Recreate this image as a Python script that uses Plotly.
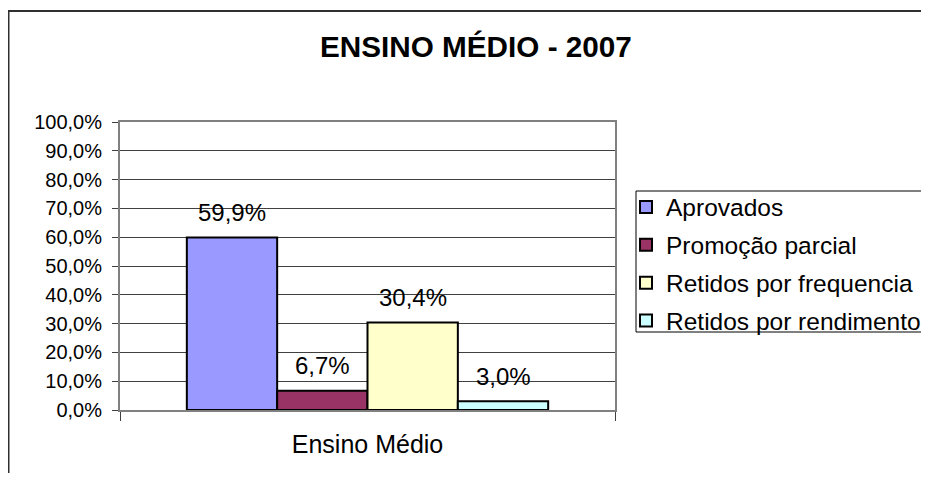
import plotly.graph_objects as go

# ---- data ----
categories = ["Ensino Médio"]
series_names = ["Aprovados", "Promoção parcial", "Retidos por frequencia", "Retidos por rendimento"]
series_values = [59.9, 6.7, 30.4, 3.0]
series_colors = ["#9999FF", "#993366", "#FFFFCC", "#CCFFFF"]
y_tick_values = [0, 10, 20, 30, 40, 50, 60, 70, 80, 90, 100]
y_tick_labels = ["0,0%", "10,0%", "20,0%", "30,0%", "40,0%", "50,0%",
                 "60,0%", "70,0%", "80,0%", "90,0%", "100,0%"]
title_text = "ENSINO MÉDIO - 2007"

# page body has an 8px margin: size the figure so the page does not overflow
# the 929x481 window, and shift screen pixels into figure pixels
OFF = 8
W, H = 929 - 2 * OFF, 481 - 2 * OFF
L, R, T, B = 120 - OFF, 615 - OFF, 122 - OFF, 410 - OFF
FONT = "Liberation Sans, Arial, sans-serif"
BARGAP = 0.27


def px_x(p):
    return (p - OFF - L) / (R - L)


def px_y(p):
    return (B - (p - OFF)) / (B - T)


def cx(p):
    return (p - OFF) / W


def cy(p):
    return 1 - (p - OFF) / H


def fmt(v):
    return f"{v:.1f}".replace(".", ",") + "%"


fig = go.Figure()
for i, (name, val, col) in enumerate(zip(series_names, series_values, series_colors)):
    fig.add_trace(go.Bar(
        x=categories, y=[val], name=name,
        marker=dict(color=col, line=dict(color="black", width=2)),
        legendgroup=f"g{i}",
        hoverinfo="skip",
    ))

# data labels, positioned on the bar centres of the grouped layout
n = len(series_values)
group_w = 1 - BARGAP
bar_w = group_w / n
annotations = []
for i, val in enumerate(series_values):
    xc = -group_w / 2 + bar_w * (i + 0.5)
    annotations.append(dict(
        x=xc, y=val, xref="x", yref="y", text=fmt(val), showarrow=False,
        yanchor="middle", yshift=25, font=dict(family=FONT, size=24, color="black"),
    ))

annotations.append(dict(
    x=px_x(476), y=px_y(46), xref="paper", yref="paper", text=f"<b>{title_text}</b>",
    showarrow=False, xanchor="center", yanchor="middle",
    font=dict(family=FONT, size=29.7, color="black"),
))

shapes = [
    # outer chart frame (left and top edges visible)
    dict(type="line", xref="paper", yref="paper", x0=px_x(8.5), x1=px_x(8.5),
         y0=px_y(11), y1=px_y(500), line=dict(color="#303030", width=2)),
    dict(type="line", xref="paper", yref="paper", x0=px_x(7.5), x1=px_x(960),
         y0=px_y(11), y1=px_y(11), line=dict(color="#303030", width=2)),
    # legend box
    dict(type="rect", xref="paper", yref="paper", x0=px_x(636), x1=px_x(960),
         y0=px_y(191), y1=px_y(332), line=dict(color="black", width=1)),
]

fig.update_layout(
    width=W, height=H,
    margin=dict(l=L, r=W - R, t=T, b=H - B, autoexpand=False),
    paper_bgcolor="white", plot_bgcolor="white",
    barmode="group", bargap=BARGAP, bargroupgap=0,
    font=dict(family=FONT, color="black"),
    showlegend=True,
    legend=dict(
        xref="container", yref="container",
        x=cx(626), y=cy(184.5), xanchor="left", yanchor="top",
        font=dict(family=FONT, size=24.5, color="black"),
        bgcolor="rgba(0,0,0,0)", borderwidth=0,
        traceorder="grouped", tracegroupgap=3,
    ),
    annotations=annotations,
    shapes=shapes,
)

fig.update_xaxes(
    type="category", showgrid=False, zeroline=False,
    showline=True, linecolor="#808080", linewidth=2, mirror=True,
    ticks="outside", tickson="boundaries", ticklen=9, tickcolor="#404040", tickwidth=1,
    tickfont=dict(family=FONT, size=25, color="black"),
    ticklabelstandoff=11,
)
fig.update_yaxes(
    range=[0, 100], tickvals=y_tick_values, ticktext=y_tick_labels,
    showgrid=True, gridcolor="#404040", gridwidth=1, zeroline=False,
    showline=True, linecolor="#808080", linewidth=2, mirror=True,
    ticks="outside", ticklen=6, tickcolor="#404040", tickwidth=1,
    tickfont=dict(family=FONT, size=20, color="black"),
    ticklabelstandoff=6,
)

fig.write_html("out.html")
